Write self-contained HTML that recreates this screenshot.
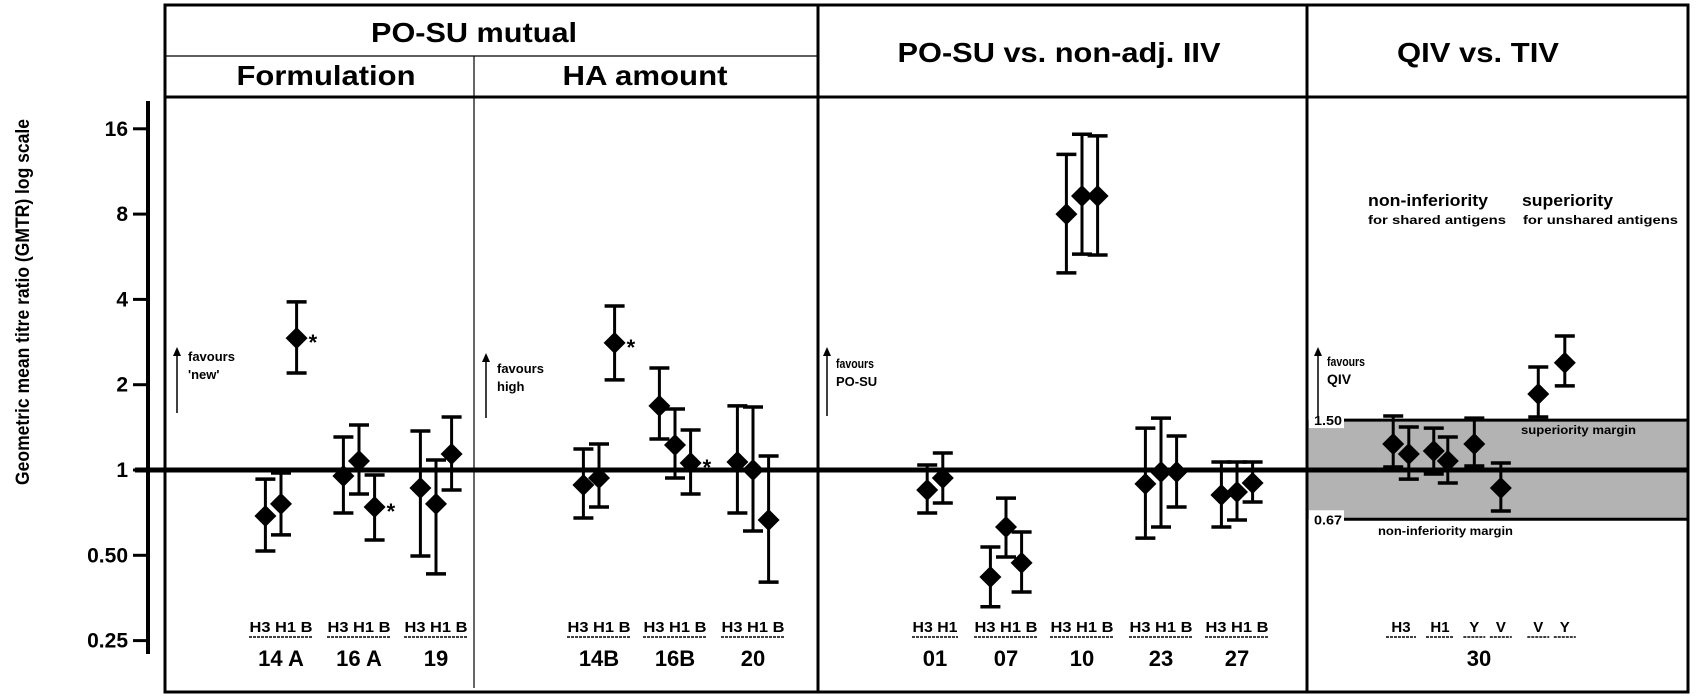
<!DOCTYPE html>
<html><head><meta charset="utf-8"><style>
html,body{margin:0;padding:0;background:#fff}
svg{display:block}
text{font-family:"Liberation Sans",sans-serif;font-weight:bold;fill:#000}
</style></head><body>
<svg id="chart" width="1701" height="698" viewBox="0 0 1701 698" xmlns="http://www.w3.org/2000/svg">
  <rect x="0" y="0" width="1701" height="698" fill="#fff"/>
  <g id="band"></g>
  <g id="frame">
    <rect x="165" y="5" width="1523" height="687" fill="none" stroke="#000" stroke-width="3"/>
    <line x1="165" y1="56" x2="818" y2="56" stroke="#000" stroke-width="1.2"/>
    <line x1="165" y1="97" x2="1688" y2="97" stroke="#000" stroke-width="3"/>
    <line x1="474" y1="56" x2="474" y2="688" stroke="#000" stroke-width="1.2"/>
    <line x1="818" y1="5" x2="818" y2="692" stroke="#000" stroke-width="3"/>
    <line x1="1307" y1="5" x2="1307" y2="692" stroke="#000" stroke-width="3"/>
  </g>
  <g>
    <text x="474" y="42" font-size="28" text-anchor="middle" textLength="206" lengthAdjust="spacingAndGlyphs">PO-SU mutual</text>
    <text x="326" y="85" font-size="28" text-anchor="middle" textLength="179" lengthAdjust="spacingAndGlyphs">Formulation</text>
    <text x="645" y="85" font-size="28" text-anchor="middle" textLength="165" lengthAdjust="spacingAndGlyphs">HA amount</text>
    <text x="1059" y="62" font-size="28" text-anchor="middle" textLength="323" lengthAdjust="spacingAndGlyphs">PO-SU vs. non-adj. IIV</text>
    <text x="1478" y="62" font-size="28" text-anchor="middle" textLength="162" lengthAdjust="spacingAndGlyphs">QIV vs. TIV</text>
  </g>
  <text transform="translate(29,302) rotate(-90)" font-size="19" text-anchor="middle" textLength="366" lengthAdjust="spacingAndGlyphs">Geometric mean titre ratio (GMTR)    log scale</text>
  <g id="axis">
    <line x1="148" y1="101" x2="148" y2="654" stroke="#000" stroke-width="4"/>
  </g>
  <g id="ref"></g>
  <g>
    <g>
      <line x1="177" y1="413" x2="177" y2="352" stroke="#000" stroke-width="1.5"/>
      <path d="M173,356 L177,347 L181,356 Z" fill="#000"/>
      <text x="188" y="361" font-size="13">favours</text><text x="188" y="379" font-size="13">'new'</text>
    </g>
    <g>
      <line x1="486" y1="418" x2="486" y2="358" stroke="#000" stroke-width="1.5"/>
      <path d="M482,362 L486,353 L490,362 Z" fill="#000"/>
      <text x="497" y="373" font-size="13">favours</text><text x="497" y="391" font-size="13">high</text>
    </g>
    <g>
      <line x1="827" y1="416" x2="827" y2="352" stroke="#000" stroke-width="1.5"/>
      <path d="M823,356 L827,347 L831,356 Z" fill="#000"/>
      <text x="836" y="368" font-size="13" textLength="38" lengthAdjust="spacingAndGlyphs">favours</text><text x="836" y="386" font-size="13">PO-SU</text>
    </g>
    <g>
      <line x1="1318" y1="416" x2="1318" y2="352" stroke="#000" stroke-width="1.5"/>
      <path d="M1314,356 L1318,347 L1322,356 Z" fill="#000"/>
      <text x="1327" y="366" font-size="13" textLength="38" lengthAdjust="spacingAndGlyphs">favours</text><text x="1327" y="384" font-size="14">QIV</text>
    </g>
    <text x="1368" y="206" font-size="17" textLength="120" lengthAdjust="spacingAndGlyphs">non-inferiority</text>
    <text x="1368" y="224" font-size="12" textLength="138" lengthAdjust="spacingAndGlyphs">for shared antigens</text>
    <text x="1522" y="206" font-size="17" textLength="91" lengthAdjust="spacingAndGlyphs">superiority</text>
    <text x="1523" y="224" font-size="12" textLength="155" lengthAdjust="spacingAndGlyphs">for unshared antigens</text>
    <text x="1521" y="434" font-size="12" textLength="115" lengthAdjust="spacingAndGlyphs">superiority margin</text>
    <text x="1378" y="535" font-size="12" textLength="135" lengthAdjust="spacingAndGlyphs">non-inferiority margin</text>
  </g>
  <g id="marks"></g>
  <g id="xlabels"></g>
</svg>
<script>
// ---- data ----
const tickValues = [16, 8, 4, 2, 1, 0.5, 0.25];
const tickLabels = ["16", "8", "4", "2", "1", "0.50", "0.25"];
const studies = ["14 A", "16 A", "19", "14B", "16B", "20", "01", "07", "10", "23", "27", "30"];
const antigens = [
  ["H3","H1","B"],["H3","H1","B"],["H3","H1","B"],["H3","H1","B"],["H3","H1","B"],["H3","H1","B"],
  ["H3","H1"],["H3","H1","B"],["H3","H1","B"],["H3","H1","B"],["H3","H1","B"],
  ["H3","H3","H1","H1","Y","V","V","Y"]
];
const gmtr = [
  [0.688, 0.759, 2.92],[0.952, 1.076, 0.740],[0.864, 0.759, 1.139],
  [0.885, 0.937, 2.81],[1.683, 1.225, 1.058],[1.067, 1.0, 0.666],
  [0.850, 0.937],[0.419, 0.629, 0.470],[8.0, 9.27, 9.27],[0.893, 0.984, 0.984],[0.816, 0.836, 0.900],
  [1.235, 1.139, 1.167, 1.076, 1.235, 0.864, 1.855, 2.39]
];
const ciLow = [
  [0.518, 0.590, 2.20],[0.705, 0.823, 0.566],[0.497, 0.430, 0.850],
  [0.677, 0.740, 2.08],[1.287, 0.937, 0.823],[0.705, 0.609, 0.402],
  [0.705, 0.765],[0.329, 0.493, 0.371],[4.96, 5.78, 5.74],[0.575, 0.629, 0.740],[0.629, 0.666, 0.771],
  [1.025, 0.929, 0.968, 0.900, 1.033, 0.717, 1.539, 1.98]
];
const ciHigh = [
  [0.929, 0.976, 3.92],[1.307, 1.442, 0.960],[1.373, 1.085, 1.539],
  [1.186, 1.235, 3.79],[2.29, 1.642, 1.384],[1.683, 1.669, 1.121],
  [1.041, 1.148],[0.535, 0.796, 0.604],[13.0, 15.3, 15.1],[1.406, 1.525, 1.318],[1.067, 1.067, 1.067],
  [1.551, 1.418, 1.406, 1.307, 1.525, 1.058, 2.31, 2.97]
];
const significant = [
  [false,false,true],[false,false,true],[false,false,false],
  [false,false,true],[false,false,true],[false,false,false],
  [false,false],[false,false,false],[false,false,false],[false,false,false],[false,false,false],
  [false,false,false,false,false,false,false,false]
];
const marginValues = [1.5, 0.67];
const marginLabels = ["1.50", "0.67"];
// ---- layout (not data) ----
const groupCenters = [281, 359, 436, 599, 675, 753, 935, 1006, 1082, 1161, 1237, 1479];
const qivSlots = [-5.5, -4.5, -2.9, -2.0, -0.3, 1.4, 3.8, 5.5];
const qivLabelSlots = [[-5.0,"H3",30],[-2.5,"H1",28],[-0.3,"Y",22],[1.4,"V",22],[3.8,"V",22],[5.5,"Y",22]];
const step = 15.6;
const y0 = 470, perOct = 85.3;
function yScale(v){ return y0 - perOct*Math.log2(v); }
function xScale(g, i){
  if (g === groupCenters.length-1) return groupCenters[g] + qivSlots[i]*step;
  const n = gmtr[g].length;
  return groupCenters[g] + (i - (n-1)/2)*step;
}
const NS = "http://www.w3.org/2000/svg";
function mk(tag, attrs, parent){
  const e = document.createElementNS(NS, tag);
  for (const k in attrs) e.setAttribute(k, attrs[k]);
  parent.appendChild(e); return e;
}
// axis ticks
const axis = document.getElementById("axis");
tickValues.forEach((v, i) => {
  const y = yScale(v);
  const t = mk("line", {x1:133, y1:y, x2:148, y2:y, stroke:"#000", "stroke-width":3}, axis);
  
  
  const lb = mk("text", {x:128, y:y+7, "font-size":21, "text-anchor":"end"}, axis);
  lb.textContent = tickLabels[i];
  
  
});
// band
const band = document.getElementById("band");
const yTop = yScale(marginValues[0]), yBot = yScale(marginValues[1]);
const br = mk("rect", {x:1308, y:yTop, width:380, height:yBot-yTop, fill:"#b3b3b3"}, band);


marginValues.forEach((v, i) => {
  const y = yScale(v);
  const ln = mk("line", {x1:1344, y1:y, x2:1688, y2:y, stroke:"#000", "stroke-width":3}, band);
  
  
  const bg = mk("rect", {x:1309, y:y-9, width:35, height:17, fill:"#fff"}, band);
  
  
  const t = mk("text", {x:1314, y:y+5, "font-size":13, textLength:28, lengthAdjust:"spacingAndGlyphs"}, band);
  t.textContent = marginLabels[i];
  
  
});
// reference line at 1
const ref = document.getElementById("ref");
const rl = mk("line", {x1:135, y1:yScale(1), x2:1688, y2:yScale(1), stroke:"#000", "stroke-width":5}, ref);


// marks
const marks = document.getElementById("marks");
gmtr.forEach((arr, g) => {
  arr.forEach((v, i) => {
    const x = xScale(g, i), y = yScale(v), yl = yScale(ciLow[g][i]), yh = yScale(ciHigh[g][i]);
    const grp = mk("g", {}, marks);
    
    
    mk("line", {x1:x, y1:yh, x2:x, y2:yl, stroke:"#000", "stroke-width":3}, grp);
    mk("line", {x1:x-10, y1:yh, x2:x+10, y2:yh, stroke:"#000", "stroke-width":3.5}, grp);
    mk("line", {x1:x-10, y1:yl, x2:x+10, y2:yl, stroke:"#000", "stroke-width":3.5}, grp);
    mk("path", {d:`M${x-11},${y} L${x},${y-11} L${x+11},${y} L${x},${y+11} Z`, fill:"#000"}, grp);
    if (significant[g][i]) {
      const s = mk("text", {x:x+12, y:y+12, "font-size":22}, grp);
      s.textContent = "*";
      
      
    }
  });
});
// x labels
const xl = document.getElementById("xlabels");
studies.forEach((s, g) => {
  const c = groupCenters[g];
  const gl = mk("text", {x:c, y:666, "font-size":22, "text-anchor":"middle"}, xl);
  gl.textContent = s;
  
  
  if (g === studies.length-1) {
    qivLabelSlots.forEach(([sl, name, w]) => {
      const x = c + sl*step;
      const t = mk("text", {x:x, y:632, "font-size":15, "text-anchor":"middle"}, xl);
      t.textContent = name;
      
      
      const d = mk("line", {x1:x-w/2, y1:637, x2:x+w/2, y2:637, stroke:"#000", "stroke-width":1.5, "stroke-dasharray":"3,1"}, xl);
      
      
    });
  } else {
    const n = antigens[g].length;
    const t = mk("text", {x:c, y:632, "font-size":15, "text-anchor":"middle", textLength: n===3?63:45, lengthAdjust:"spacingAndGlyphs"}, xl);
    t.textContent = antigens[g].join(" ");
    
    
    const w = n===3?64:46;
    const d = mk("line", {x1:c-w/2, y1:637, x2:c+w/2, y2:637, stroke:"#000", "stroke-width":1.5, "stroke-dasharray":"3,1"}, xl);
    
    
  }
});
</script>
</body></html>
